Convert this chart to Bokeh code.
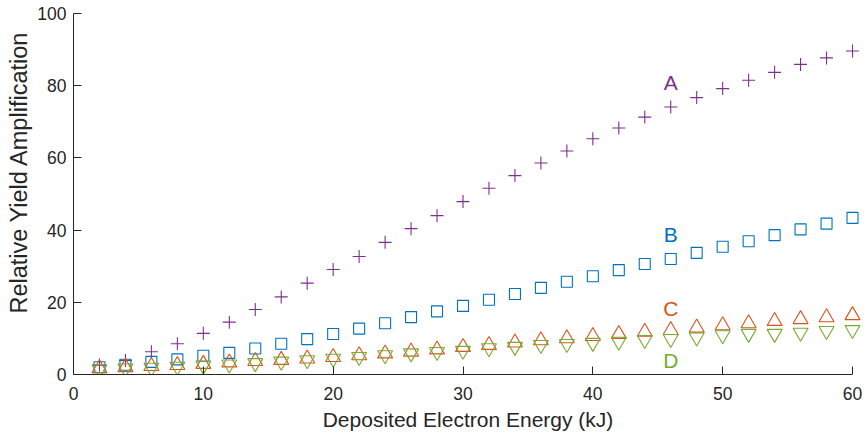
from bokeh.plotting import figure
from bokeh.models import Range1d, FixedTicker, ColumnDataSource, Title
from bokeh.embed import file_html
from bokeh.resources import INLINE
from bokeh.core.properties import value

# Deposited electron energy (kJ)
energy = [2, 4, 6, 8, 10, 12, 14, 16, 18, 20, 22, 24, 26, 28, 30,
          32, 34, 36, 38, 40, 42, 44, 46, 48, 50, 52, 54, 56, 58, 60]

# Relative yield amplification for each configuration
yield_a = [2.6, 3.9, 6.3, 8.5, 11.4, 14.5, 18.0, 21.5, 25.3, 29.1, 32.7, 36.6,
           40.4, 44.0, 47.9, 51.6, 55.1, 58.6, 61.9, 65.3, 68.3, 71.3, 74.1,
           76.7, 79.2, 81.5, 83.7, 85.9, 87.7, 89.6]
yield_b = [2.0, 2.7, 3.5, 4.2, 5.2, 6.0, 7.2, 8.5, 9.8, 11.2, 12.7, 14.2,
           15.9, 17.5, 19.0, 20.7, 22.3, 24.0, 25.7, 27.2, 28.9, 30.6, 32.0,
           33.7, 35.4, 36.9, 38.6, 40.2, 41.8, 43.4]
yield_c = [1.7, 2.0, 2.3, 2.6, 2.9, 3.3, 3.7, 4.0, 4.4, 4.8, 5.3, 5.8,
           6.3, 6.9, 7.6, 8.15, 8.8, 9.45, 10.0, 10.6, 11.2, 11.8, 12.3,
           12.95, 13.6, 14.15, 14.8, 15.3, 15.8, 16.4]
yield_d = [1.5, 1.7, 1.9, 2.2, 2.5, 2.8, 3.2, 3.6, 4.0, 4.4, 4.9, 5.4,
           5.9, 6.3, 6.6, 7.3, 7.7, 8.2, 8.5, 8.8, 9.1, 9.6, 9.9,
           10.3, 10.9, 11.3, 11.3, 11.6, 12.1, 12.35]

series_names = ["A", "B", "C", "D"]
label_x = [46, 46, 46, 46]
label_y = [81.0, 38.7, 18.2, 3.9]

x_ticks = [0, 10, 20, 30, 40, 50, 60]
y_ticks = [0, 20, 40, 60, 80, 100]

colors = ["#7E2F8E", "#0072BD", "#D95319", "#77AC30"]
axis_color = "#262626"
font = "Liberation Sans"

# The x range runs a little past 60 so the last markers are not clipped;
# the axis itself stops at 60.
p = figure(width=866, height=433, output_backend="svg", toolbar_location=None,
           x_range=Range1d(0, 60.77), y_range=Range1d(0, 100),
           min_border_left=73, min_border_right=4,
           min_border_top=13, min_border_bottom=59)
p.outline_line_color = None
p.background_fill_color = "white"
p.border_fill_color = "white"
p.xgrid.visible = False
p.ygrid.visible = False

p.scatter(energy, yield_a, marker="cross", size=13, line_color=colors[0],
          line_width=1.1)
p.scatter(energy, yield_b, marker="square", size=11, line_color=colors[1],
          fill_color=None, line_width=1.1)
p.scatter(energy, yield_c, marker="triangle", size=15, line_color=colors[2],
          fill_color=None, line_width=1.1)
p.scatter(energy, yield_d, marker="inverted_triangle", size=15,
          line_color=colors[3], fill_color=None, line_width=1.1)

labels = ColumnDataSource(dict(x=label_x, y=label_y, text=series_names,
                               color=colors))
p.text(x="x", y="y", text="text", source=labels, text_color="color",
       text_font=value(font), text_font_size="21px", text_align="center",
       text_baseline="middle")

for ax in (p.xaxis[0], p.yaxis[0]):
    ax.axis_line_color = axis_color
    ax.axis_line_width = 1
    ax.major_tick_line_color = axis_color
    ax.major_tick_in = 8
    ax.major_tick_out = 0
    ax.minor_tick_line_color = None
    ax.major_label_text_font = font
    ax.major_label_text_font_size = "17.5px"
    ax.major_label_text_color = axis_color
    ax.axis_label_text_font = font
    ax.axis_label_text_font_style = "normal"
    ax.axis_label_text_color = axis_color

p.xaxis.bounds = (0, 60)
p.xaxis.ticker = FixedTicker(ticks=x_ticks)
p.yaxis.ticker = FixedTicker(ticks=y_ticks)
p.xaxis.axis_label = "Deposited Electron Energy (kJ)"
p.xaxis.axis_label_text_font_size = "21px"
p.xaxis.major_label_standoff = 12
p.yaxis.major_label_standoff = 7
p.xaxis.axis_label_standoff = 5

# Vertical title in the left panel, starting 61 px above the frame bottom
y_title = Title(text="Relative Yield Amplification", align="left", offset=61,
                vertical_align="middle", standoff=4,
                text_font=font, text_font_style="normal",
                text_font_size="23.5px", text_color=axis_color)
p.add_layout(y_title, "left")

open("out.html", "w").write(file_html(p, INLINE))
